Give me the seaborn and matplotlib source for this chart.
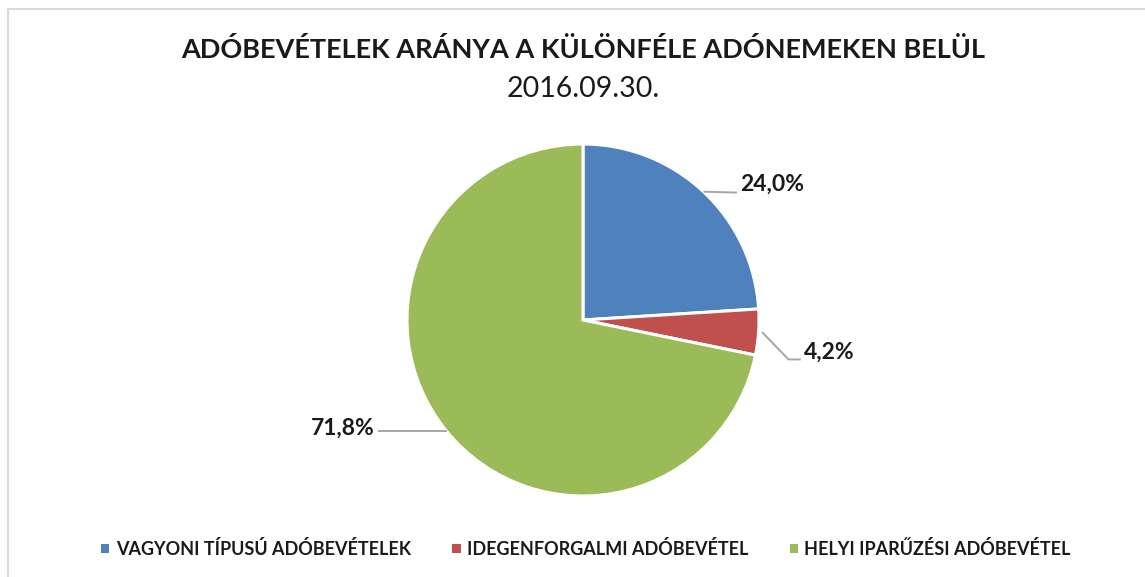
import numpy as np
import seaborn as sns
import matplotlib
matplotlib.use("Agg")
import matplotlib.pyplot as plt
from matplotlib.patches import Rectangle, Patch

# data
categories = ["VAGYONI TÍPUSÚ ADÓBEVÉTELEK", "IDEGENFORGALMI ADÓBEVÉTEL", "HELYI IPARŰZÉSI ADÓBEVÉTEL"]
shares = [24.0, 4.2, 71.8]
labels = ["24,0%", "4,2%", "71,8%"]
colors = ["#4F81BD", "#C0504D", "#9BBB59"]

sns.set_theme(style="white")
plt.rcParams["font.family"] = ["Lato", "DejaVu Sans"]

W, H = 1145, 577
fig = plt.figure(figsize=(W / 100, H / 100), dpi=100)

# pie centre / radius in pixels
cx, cy, r = 583, 320, 176
L = 1.4
side = 2 * L * r
ax = fig.add_axes([(cx - side / 2) / W, (H - cy - side / 2) / H, side / W, side / H])
wedges, _ = ax.pie(shares, colors=colors, startangle=90, counterclock=False,
                   radius=1, wedgeprops=dict(edgecolor="white", linewidth=2.2))
ax.set_xlim(-L, L)
ax.set_ylim(-L, L)
ax.set_aspect("equal")
ax.axis("off")

# leader lines and labels
line_col = "#A6A6A6"
for w, lab in zip(wedges, labels):
    ang = np.deg2rad((w.theta1 + w.theta2) / 2)
    x0, y0 = np.cos(ang), np.sin(ang)
    if lab == "24,0%":
        pts = [(x0, y0), (x0 + 0.19, y0 - 0.005)]
        tx, ty, ha = x0 + 0.21, y0 + 0.04, "left"
    elif lab == "4,2%":
        pts = [(x0 + 0.02, y0), (x0 + 0.17, y0 - 0.155), (x0 + 0.24, y0 - 0.155)]
        tx, ty, ha = x0 + 0.26, y0 - 0.115, "left"
    else:
        pts = [(x0, y0), (x0 - 0.39, y0)]
        tx, ty, ha = x0 - 0.41, y0 + 0.02, "right"
    xs, ys = zip(*pts)
    ax.plot(xs, ys, color=line_col, lw=1.4, solid_capstyle="butt")
    ax.text(tx, ty, lab, ha=ha, va="center", fontsize=16.5, fontweight="bold", color="#1a1a1a")

# titles
fig.text(cx / W, 1 - 50 / H, "ADÓBEVÉTELEK ARÁNYA A KÜLÖNFÉLE ADÓNEMEKEN BELÜL",
         ha="center", va="center", fontsize=19.5, fontweight="bold", color="#1a1a1a")
fig.text(cx / W, 1 - 89 / H, "2016.09.30.", ha="center", va="center",
         fontsize=20.5, color="#1a1a1a")

# legend
handles = [Patch(facecolor=c, edgecolor="none") for c in colors]
leg = fig.legend(handles, categories, loc="center", bbox_to_anchor=(586 / W, 1 - 549 / H),
                 ncol=3, frameon=False, handlelength=0.45, handleheight=0.45,
                 handletextpad=0.35, columnspacing=2.3,
                 prop=dict(family=["Lato", "DejaVu Sans"], weight="bold", size=13))
for t in leg.get_texts():
    t.set_color("#1a1a1a")

# chart border
fig.patches.append(Rectangle((8 / W, -0.05), 1.2, 1 - 9 / H + 0.05, transform=fig.transFigure,
                             fill=False, edgecolor="#D9D9D9", linewidth=1.5))

fig.savefig("out.png", dpi=100)
